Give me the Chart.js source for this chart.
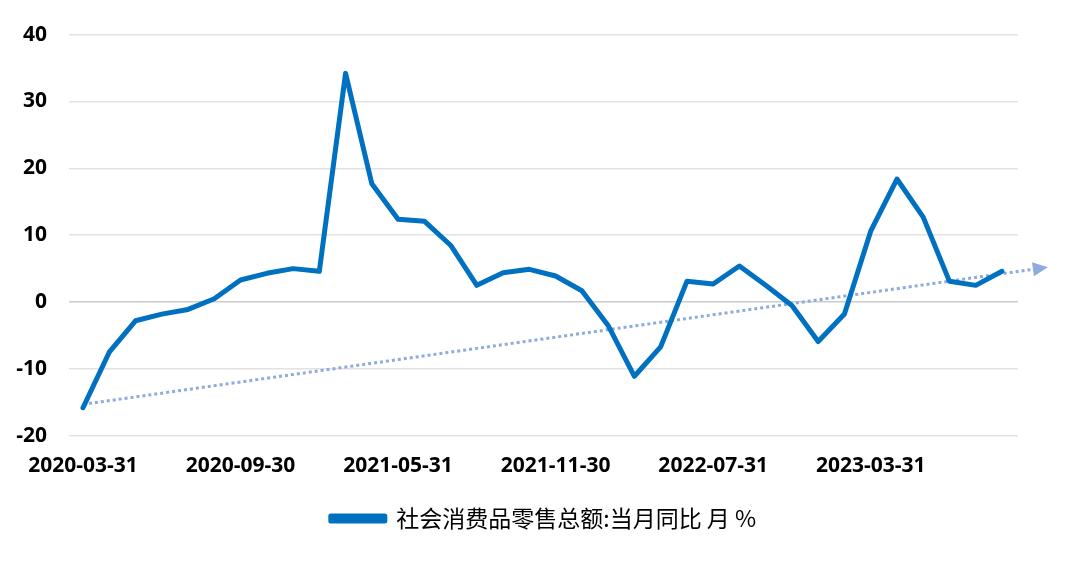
<!DOCTYPE html>
<html>
<head>
<meta charset="utf-8">
<script src="https://cdn.jsdelivr.net/npm/chart.js@4/dist/chart.umd.min.js"></script>
<style>
  html, body { margin: 0; padding: 0; background: #ffffff; }
  #wrap { width: 1080px; height: 583px; position: relative; }
</style>
</head>
<body>
<div id="wrap"><canvas id="c" width="1080" height="583"></canvas></div>
<script>
// ---- data ----
const categories = [
  '2020-03-31','2020-04-30','2020-05-31','2020-06-30','2020-07-31','2020-08-31','2020-09-30','2020-10-31','2020-11-30','2020-12-31',
  '2021-03-31','2021-04-30','2021-05-31','2021-06-30','2021-07-31','2021-08-31','2021-09-30','2021-10-31','2021-11-30','2021-12-31',
  '2022-03-31','2022-04-30','2022-05-31','2022-06-30','2022-07-31','2022-08-31','2022-09-30','2022-10-31','2022-11-30','2022-12-31',
  '2023-03-31','2023-04-30','2023-05-31','2023-06-30','2023-07-31','2023-08-31'
];
const retailYoY = [
  -15.8, -7.5, -2.8, -1.8, -1.1, 0.5, 3.3, 4.3, 5.0, 4.6,
  34.2, 17.7, 12.4, 12.1, 8.5, 2.5, 4.4, 4.9, 3.9, 1.7,
  -3.5, -11.1, -6.7, 3.1, 2.7, 5.4, 2.5, -0.5, -5.9, -1.8,
  10.6, 18.4, 12.7, 3.1, 2.5, 4.6
];
const tickLabelIndex = [0, 6, 12, 18, 24, 30];
const trendX = [0, 36.18];
const trendY = [-15.3, 4.9];
const yTicks = [-20, -10, 0, 10, 20, 30, 40];
const seriesName = '社会消费品零售总额:当月同比 月 %';

const lineData = retailYoY.map((v, i) => ({ x: i, y: v }));
const trendData = trendX.map((x, i) => ({ x: x, y: trendY[i] }));

const arrowPlugin = {
  id: 'trendArrow',
  afterDatasetsDraw(chart) {
    const meta = chart.getDatasetMeta(1);
    if (!meta || !meta.data || meta.data.length < 2) return;
    const p0 = meta.data[0], p1 = meta.data[meta.data.length - 1];
    const ang = Math.atan2(p1.y - p0.y, p1.x - p0.x);
    const len = 15, half = 7;
    const ctx = chart.ctx;
    ctx.save();
    ctx.translate(p1.x, p1.y);
    ctx.rotate(ang);
    ctx.beginPath();
    ctx.moveTo(len, 0);
    ctx.lineTo(0, -half);
    ctx.lineTo(0, half);
    ctx.closePath();
    ctx.fillStyle = '#8FAADC';
    ctx.fill();
    ctx.restore();
  }
};

new Chart(document.getElementById('c'), {
  type: 'line',
  data: {
    datasets: [
      {
        label: seriesName,
        data: lineData,
        borderColor: '#0070C0',
        backgroundColor: '#0070C0',
        borderWidth: 5,
        pointRadius: 0,
        tension: 0,
        borderJoinStyle: 'round',
        borderCapStyle: 'round'
      },
      {
        label: 'trend',
        data: trendData,
        borderColor: '#8FAADC',
        backgroundColor: '#8FAADC',
        borderWidth: 3,
        borderDash: [3, 3],
        pointRadius: 0,
        clip: false
      }
    ]
  },
  plugins: [arrowPlugin],
  options: {
    responsive: false,
    animation: false,
    layout: { autoPadding: false, padding: { left: 0, right: 62, top: 32, bottom: 43 } },
    plugins: {
      tooltip: { enabled: false },
      legend: {
        position: 'bottom',
        fullSize: false,
        labels: {
          filter: (item) => item.datasetIndex === 0,
          boxWidth: 54,
          boxHeight: 5,
          padding: 10,
          color: '#000000',
          font: { family: '"Noto Sans CJK SC", "Open Sans", sans-serif', size: 23 }
        }
      }
    },
    scales: {
      x: {
        type: 'linear',
        min: -0.533,
        max: 35.61,
        grid: { display: false, drawTicks: false },
        border: { display: false },
        afterBuildTicks: (scale) => { scale.ticks = tickLabelIndex.map(v => ({ value: v })); },
        ticks: {
          autoSkip: false,
          maxRotation: 0,
          padding: 18,
          color: '#000000',
          font: { family: '"Open Sans", sans-serif', size: 21, weight: 'bold' },
          callback: (v) => categories[v] || ''
        }
      },
      y: {
        min: -20,
        max: 40,
        afterFit: (scale) => { scale.width = 69; },
        afterBuildTicks: (scale) => { scale.ticks = yTicks.map(v => ({ value: v })); },
        grid: {
          color: (ctx) => (ctx.tick && ctx.tick.value === 0) ? '#cccccc' : '#e2e2e2',
          lineWidth: 1.5,
          drawTicks: false
        },
        border: { display: false },
        ticks: {
          padding: 22,
          color: '#000000',
          font: { family: '"Open Sans", sans-serif', size: 21, weight: 'bold' }
        }
      }
    }
  }
});
</script>
</body>
</html>
